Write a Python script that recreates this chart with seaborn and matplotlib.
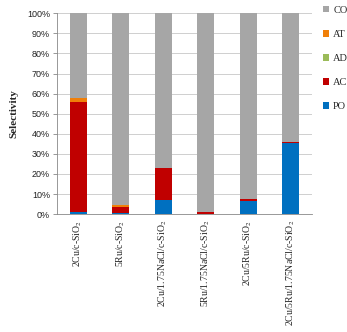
import numpy as np
import pandas as pd
import matplotlib
matplotlib.use("Agg")
import matplotlib.pyplot as plt
import seaborn as sns
from matplotlib.patches import Patch

categories = ["2Cu/c-SiO$_2$", "5Ru/c-SiO$_2$", "2Cu/1.75NaCl/c-SiO$_2$",
              "5Ru/1.75NaCl/c-SiO$_2$", "2Cu/5Ru/c-SiO$_2$", "2Cu/5Ru/1.75NaCl/c-SiO$_2$"]
PO = [1.0, 0.5, 7.0, 0.0, 6.5, 35.5]
AC = [55.0, 3.0, 16.0, 1.2, 0.8, 0.6]
AD = [0.0, 0.0, 0.0, 0.0, 0.0, 0.0]
AT = [1.8, 1.2, 0.0, 0.0, 0.0, 0.0]
series_names = ["CO", "AT", "AD", "AC", "PO"]
colors = {"CO": "#A6A6A6", "AT": "#F07F09", "AD": "#9BBB59", "AC": "#C00000", "PO": "#0070C0"}

sns.set_style("white")
plt.rcParams["mathtext.fontset"] = "stix"

df = pd.DataFrame({"cat": categories, "PO": PO, "AC": AC, "AD": AD, "AT": AT})
df["CO"] = 100 - df[["PO", "AC", "AD", "AT"]].sum(axis=1)

fig = plt.figure(figsize=(3.47, 3.32), dpi=100)
ax = fig.add_axes([0.164, 0.355, 0.735, 0.605])

stack_order = ["PO", "AC", "AD", "AT", "CO"]
cum = {}
running = np.zeros(len(df))
for s in stack_order:
    running = running + df[s].values
    cum[s] = running.copy()

for s in reversed(stack_order):
    sns.barplot(x=df["cat"], y=cum[s], color=colors[s], ax=ax, width=0.4,
                saturation=1, edgecolor="none", zorder=3)

ax.set_ylim(0, 100)
ax.set_xlim(-0.5, 5.5)
ax.set_yticks(np.arange(0, 101, 10))
ax.set_yticklabels([f"{v}%" for v in range(0, 101, 10)], fontsize=6.5,
                   family="Liberation Sans", color="#222222")
ax.set_xticks(range(len(categories)))
ax.set_xticklabels(categories, rotation=90, fontsize=7, family="Liberation Serif")
ax.tick_params(axis="x", length=0, pad=4)
ax.tick_params(axis="y", length=3, width=0.6, color="#888888", pad=2, left=True)
ax.set_xlabel("")
ax.set_ylabel("Selectivity", fontsize=8, family="Liberation Serif", fontweight="bold", labelpad=6)
ax.yaxis.grid(True, color="#C8C8C8", linewidth=0.6, zorder=0)
for sp in ["top", "right"]:
    ax.spines[sp].set_visible(False)
ax.spines["left"].set_color("#888888")
ax.spines["bottom"].set_color("#888888")
ax.spines["left"].set_linewidth(0.6)
ax.spines["bottom"].set_linewidth(0.6)

handles = [Patch(facecolor=colors[s], edgecolor="none", label=s) for s in series_names]
fig.legend(handles=handles, loc="upper left", bbox_to_anchor=(0.918, 0.995),
           frameon=False, prop={"family": "Liberation Serif", "size": 7.5},
           handlelength=0.6, handleheight=0.6, handletextpad=0.4, labelspacing=1.45,
           borderaxespad=0)

fig.savefig("out.png", dpi=100)
